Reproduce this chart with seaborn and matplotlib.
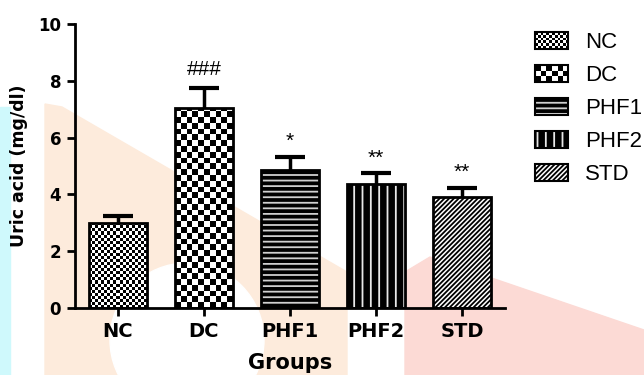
import numpy as np
import matplotlib
matplotlib.use("Agg")
import matplotlib.pyplot as plt
import seaborn as sns
from matplotlib.patches import Rectangle, Polygon, Circle, Patch
from matplotlib.legend_handler import HandlerBase
from matplotlib.image import BboxImage
from matplotlib.transforms import Bbox, TransformedBbox, Affine2D
from matplotlib.colors import Normalize

# ---- data ----
groups = ["NC", "DC", "PHF1", "PHF2", "STD"]
uric_acid = [3.0, 7.05, 4.87, 4.35, 3.9]
sem = [0.25, 0.7, 0.45, 0.4, 0.33]
marks = ["", "###", "*", "**", "**"]

# fill style of each group (checker cell in px, or a hatch)
styles = {
    "NC": dict(kind="checker", cell=3.0, legend_cells=(6, 12)),
    "DC": dict(kind="checker", cell=5.8, legend_cells=(3, 6)),
    "PHF1": dict(kind="hatch", face="black", hc="#d0d0d0", hatch="---"),
    "PHF2": dict(kind="hatch", face="black", hc="#e8e8e8", hatch="||"),
    "STD": dict(kind="hatch", face="white", hc="black", hatch="///////"),
}

W, H = 644, 375
LEFT, RIGHT, BOTTOM, TOP = 75 / W, 505 / W, 1 - 308 / H, 1 - 24 / H

sns.set_style("ticks")
plt.rcParams["font.family"] = ["DejaVu Sans"]
plt.rcParams["hatch.linewidth"] = 1.3
for k in ("text.color", "axes.labelcolor", "xtick.color", "ytick.color",
          "xtick.labelcolor", "ytick.labelcolor", "axes.edgecolor"):
    plt.rcParams[k] = "black"


def checker(nr, nc):
    return (np.add.outer(np.arange(nr), np.arange(nc)) % 2).astype(float)


class SwatchHandler(HandlerBase):
    def __init__(self, st):
        super().__init__()
        self.st = st

    def create_artists(self, legend, orig_handle, xdescent, ydescent,
                       width, height, fontsize, trans):
        x0, y0 = -xdescent, -ydescent
        arts = []
        st = self.st
        if st["kind"] == "checker":
            bb = TransformedBbox(Bbox.from_bounds(x0, y0, width, height), trans)
            img = BboxImage(bb, cmap="gray", norm=Normalize(0, 1),
                            interpolation="nearest")
            img.set_data(checker(*st["legend_cells"]))
            arts.append(img)
        else:
            arts.append(Rectangle((x0, y0), width, height, facecolor=st["face"],
                                  edgecolor=st["hc"], hatch=st["hatch"], lw=0,
                                  transform=trans))
        arts.append(Rectangle((x0, y0), width, height, fill=False,
                              edgecolor="black", lw=1.5, transform=trans))
        return arts


fig = plt.figure(figsize=(W / 100, H / 100), dpi=100)
fig.patch.set_facecolor("white")

# faint watermark behind the chart
px = Affine2D().scale(1 / W, -1 / H).translate(0, 1) + fig.transFigure
fig.patches.extend([
    Rectangle((0, 107), 10, 268, color="#cff9fc", transform=px, zorder=-10),
    Polygon([(45, 104), (62, 107), (347, 272), (347, 375), (45, 375)],
            color="#fdebdc", transform=px, zorder=-10),
    Circle((187, 340), 77, color="white", transform=px, zorder=-9),
    Polygon([(405, 375), (405, 272), (430, 257), (644, 330), (644, 375)],
            color="#fcdad5", transform=px, zorder=-10),
])

ax = fig.add_axes([LEFT, BOTTOM, RIGHT - LEFT, TOP - BOTTOM])
ax.set_facecolor("none")

sns.barplot(x=groups, y=uric_acid, color="white", width=0.67,
            errorbar=None, ax=ax)

px_x = W * (RIGHT - LEFT) / len(groups)
px_y = H * (TOP - BOTTOM) / 10
for bar, g in zip(ax.patches, groups):
    st = styles[g]
    x0, w, h = bar.get_x(), bar.get_width(), bar.get_height()
    if st["kind"] == "checker":
        nc = max(1, int(round(w * px_x / st["cell"])))
        cell = w * px_x / nc
        nr = int(np.ceil(h * px_y / cell))
        im = ax.imshow(checker(nr, nc), cmap="gray", vmin=0, vmax=1,
                       extent=(x0, x0 + w, 0, nr * cell / px_y), origin="lower",
                       interpolation="nearest", aspect="auto", zorder=1.5)
        im.set_clip_path(bar)
        bar.set_linewidth(0)
    else:
        bar.set_facecolor(st["face"])
        bar.set_edgecolor(st["hc"])
        bar.set_hatch(st["hatch"])
        bar.set_linewidth(0)
    ax.add_patch(Rectangle((x0, 0), w, h, fill=False, edgecolor="black",
                           lw=2, zorder=2.5))

eb = ax.errorbar(range(len(groups)), uric_acid,
                 yerr=[np.zeros(len(sem)), sem], fmt="none", ecolor="black",
                 elinewidth=2.5, capsize=11, capthick=3, zorder=3)
for cl in eb[1]:
    if np.allclose(cl.get_ydata(), uric_acid):
        cl.set_visible(False)

offsets = {"#": 9, "*": 7}
for i, (m, e, t) in enumerate(zip(uric_acid, sem, marks)):
    if t:
        ax.annotate(t, (i, m + e), xytext=(0, offsets[t[0]]),
                    textcoords="offset points", ha="center", va="baseline",
                    fontsize=15, family="Liberation Sans")

ax.set_xlim(-0.5, len(groups) - 0.5)
ax.set_ylim(0, 10)
ax.set_yticks(range(0, 11, 2))
sns.despine(ax=ax)
for s in ("left", "bottom"):
    ax.spines[s].set_linewidth(2)
ax.tick_params(axis="both", direction="out", length=6, width=2, color="black")
ax.tick_params(axis="x", labelsize=14, pad=4)
ax.tick_params(axis="y", labelsize=12, pad=4)
for lab in ax.get_xticklabels() + ax.get_yticklabels():
    lab.set_fontweight("bold")

ax.set_xlabel("Groups", fontsize=15, fontweight="bold", labelpad=9)
ax.set_ylabel("Uric acid (mg/dl)", fontsize=12.5, fontweight="bold", labelpad=7)

handles = [Patch(label=g) for g in groups]
ax.legend(handles=handles, handler_map={h: SwatchHandler(styles[g])
                                        for h, g in zip(handles, groups)},
          loc="upper left", bbox_to_anchor=(535 / W, 1 - 32 / H),
          bbox_transform=fig.transFigure, frameon=False, borderpad=0,
          borderaxespad=0, handlelength=1.49, handleheight=0.77,
          handletextpad=0.77, labelspacing=0.54,
          prop={"family": "Liberation Sans", "size": 16})

fig.savefig("out.png", dpi=100, facecolor=fig.get_facecolor())
